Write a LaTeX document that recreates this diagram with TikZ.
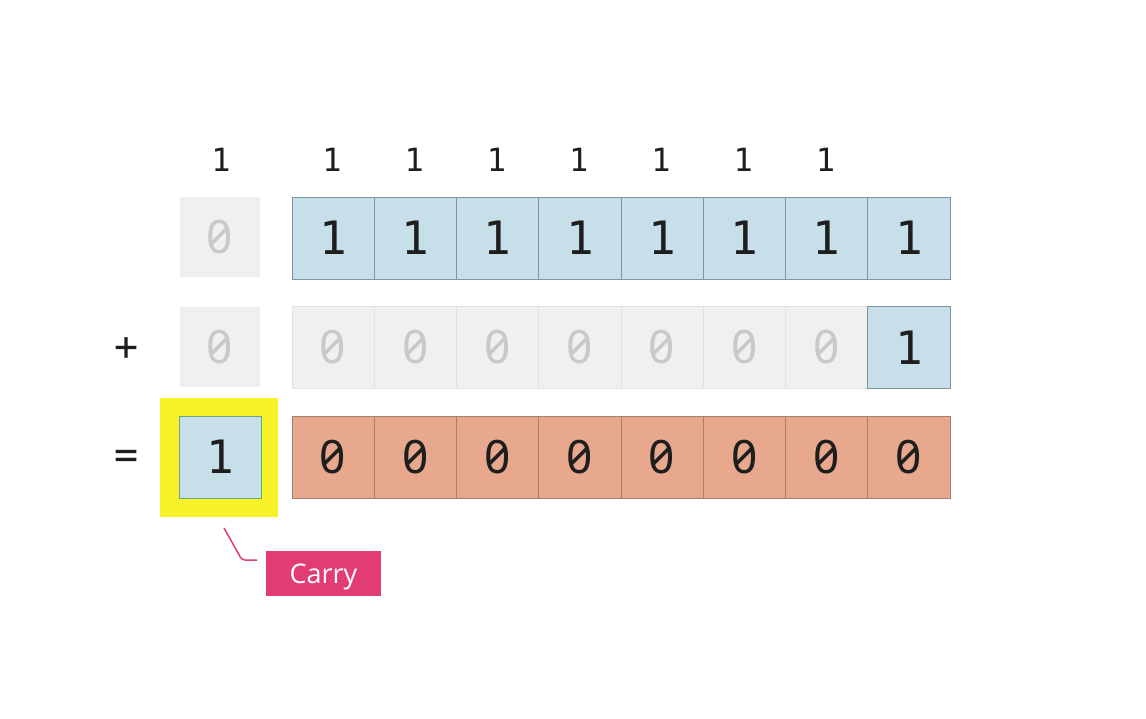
\documentclass[tikz,border=0pt]{standalone}
\usepackage{fontspec}
\setmainfont{Open Sans}
\newfontfamily\digitfont{DejaVu Sans Mono}
\newfontfamily\zerofont{Noto Sans}[RawFeature=+zero]
\definecolor{cellblue}{HTML}{C6DFE8}
\definecolor{blueedge}{HTML}{7C959E}
\definecolor{cellgray}{HTML}{F0F0F0}
\definecolor{grayedge}{HTML}{E2E2E2}
\definecolor{zerogray}{HTML}{C9C9C9}
\definecolor{cellorange}{HTML}{E8A88D}
\definecolor{orangeedge}{HTML}{A9806E}
\definecolor{hiyellow}{HTML}{F7F22A}
\definecolor{carrypink}{HTML}{E23D72}
\definecolor{digitink}{HTML}{1E1E1E}
\tikzset{
  cellbox/.style={rectangle, minimum width=82.25pt, minimum height=82pt, inner sep=0pt, font=\digitfont\fontsize{46}{46}\selectfont, text=digitink},
  zerotext/.style={font=\zerofont\fontsize{46}{46}\selectfont},
  bluecell/.style={cellbox, fill=cellblue, draw=blueedge, line width=1pt},
  graycell/.style={cellbox, zerotext, fill=cellgray, draw=grayedge, line width=0.8pt, text=zerogray},
  orangecell/.style={cellbox, zerotext, fill=cellorange, draw=orangeedge, line width=1pt},
  sidecell/.style={cellbox, zerotext, minimum width=80pt, minimum height=80pt, fill=cellgray, text=zerogray},
  carrydigit/.style={font=\digitfont\fontsize{32}{32}\selectfont, text=digitink, inner sep=0pt},
  opsign/.style={font=\digitfont\fontsize{40}{40}\selectfont, text=digitink, inner sep=0pt},
  tag/.style={fill=carrypink, text=white, font=\fontsize{27}{27}\selectfont, minimum width=115pt, minimum height=45pt, inner sep=0pt, text depth=0pt, text height=20pt},
  leader/.style={draw=carrypink, line width=1.5pt, rounded corners=3pt}
}
\begin{document}
\begin{tikzpicture}[x=1pt,y=-1pt]
\useasboundingbox[fill=white] (0,0) rectangle (1146,718);
% carries
\node[carrydigit] (k0) at (221,160) {1};
\foreach \i in {0,...,6} {
  \node[carrydigit] (k\i x) at ({332+82.25*\i},160) {1};
}
% row 1
\node[sidecell] (a0) at (220,237) {0};
\foreach \i in {0,...,7} {
  \node[bluecell] (a\i x) at ({333.125+82.25*\i},238) {1};
}
% row 2
\node[opsign] (plus) at (127,349) {+};
\node[sidecell] (b0) at (220,347) {0};
\foreach \i in {0,...,6} {
  \node[graycell] (b\i x) at ({333.125+82.25*\i},347.5) {0};
}
\node[bluecell] (b7x) at ({333.125+82.25*7},347.5) {1};
% row 3
\node[opsign] (eq) at (127,459) {=};
\node[rectangle, fill=hiyellow, minimum width=118pt, minimum height=119pt, inner sep=0pt] (hl) at (219,457.5) {};
\node[bluecell, minimum width=82pt, minimum height=82pt, draw=blueedge!80!green] (c0) at (220,457) {1};
\foreach \i in {0,...,7} {
  \node[orangecell] (c\i x) at ({333.125+82.25*\i},457) {0};
}
% carry label
\node[tag] (carry) at (323.5,573.5) {Carry};
\coordinate (lstart) at (224,528);
\coordinate (lbend) at (242,560);
\coordinate (lend) at (257,560);
\draw[leader] (lstart) -- (lbend) -- (lend);
\end{tikzpicture}
\end{document}
